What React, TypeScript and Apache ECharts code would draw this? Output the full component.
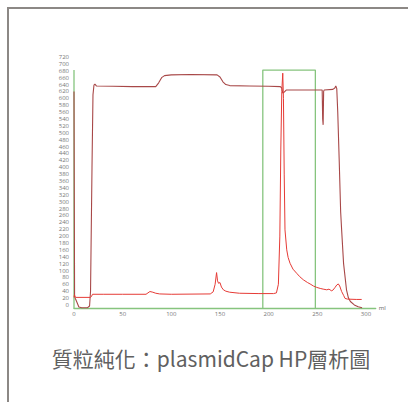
import React, { useEffect, useRef } from "react";
import * as echarts from "echarts";

// Dark red trace (x in ml, y in signal units)
const darkTrace: [number, number][] = [
  [0, 620], [0.6, 25], [1.5, 18], [3, 8], [5, -6], [8, -8], [14, -8], [16, -3], [17, 40],
  [18.5, 400], [19.5, 610], [20.5, 638], [21.5, 641], [23, 636], [40, 635], [60, 634], [84, 634],
  [87, 645], [90, 660], [93, 666], [100, 668], [120, 669], [147, 668], [150, 662], [153, 648],
  [156, 640], [160, 637], [180, 636], [200, 635], [212, 634], [213.5, 630], [214.5, 615], [216, 618],
  [218, 624], [230, 624], [255, 624], [255.5, 540], [256, 523], [256.5, 620], [257, 624], [266, 626],
  [268, 630], [269, 636], [270, 628], [271, 560], [272.5, 420], [274, 270], [275, 218], [277, 120],
  [280, 44], [282, 20], [284, 10], [288, 0], [292, -5], [296, -8],
];

// Bright red trace
const brightTrace: [number, number][] = [
  [0, 22], [0.5, 30], [1, 24], [2, 22], [17, 22], [18, 25], [19, 31], [30, 31], [50, 31], [74, 31],
  [76, 35], [78, 39], [81, 37], [84, 34], [88, 32], [100, 31], [140, 32], [143, 38], [145, 60],
  [146.5, 94], [147.5, 70], [148.5, 63], [150, 65], [151.5, 52], [153.5, 44], [156, 40], [160, 37],
  [170, 34], [190, 33], [205, 33], [208, 35], [210, 60], [211.5, 200], [212.5, 450], [213.5, 620],
  [214.5, 673], [215.2, 600], [216, 380], [216.8, 218], [218.6, 160], [220, 138], [222, 121],
  [225, 104], [228.8, 92], [232, 82], [235.7, 73], [240, 65], [242.6, 61], [246, 55], [249.4, 51],
  [253, 48], [256, 46], [259.7, 44], [261, 45], [262, 46], [263, 44], [264.8, 41], [266, 43],
  [268, 50], [270, 58], [271.6, 61], [273, 55], [275, 39], [277, 28], [278.5, 19], [281, 17],
  [290, 16], [295.6, 16],
];

// Fraction collection window (ml) and its top level
const fractionStart = 194;
const fractionEnd = 248;
const fractionTop = 682;
const yLineTop = 682;

const xMin = 0;
const xMax = 310;
const xInterval = 50;
const yMin = -10;
const yMax = 720;
const yInterval = 10;
const yLabelStep = 20;

const titleText = "質粒純化：plasmidCap HP層析圖";
const xName = "ml";

export default function App() {
  const ref = useRef<HTMLDivElement>(null);
  useEffect(() => {
    if (!ref.current) return;
    const chart = echarts.init(ref.current, null, { renderer: "svg" });
    const green = "#86c47e";
    chart.setOption({
      animation: false,
      grid: { left: 74, top: 57, width: 301.7, height: 251.4 },
      xAxis: {
        type: "value",
        min: xMin,
        max: xMax,
        interval: xInterval,
        name: xName,
        nameLocation: "end",
        nameGap: 3,
        nameTextStyle: { fontSize: 6, color: "#666", fontFamily: "Open Sans" },
        axisLine: { show: true, onZero: false, lineStyle: { color: green, width: 1.3 } },
        axisTick: { show: false },
        splitLine: { show: false },
        axisLabel: {
          fontSize: 6,
          color: "#777",
          margin: 3,
          fontFamily: "Open Sans",
          formatter: (v: number) => (v % xInterval === 0 && v <= 300 ? String(v) : ""),
        },
      },
      yAxis: {
        type: "value",
        min: yMin,
        max: yMax,
        interval: yInterval,
        axisLine: { show: false },
        axisTick: { show: false },
        splitLine: { show: false },
        axisLabel: {
          fontSize: 6,
          lineHeight: 6,
          color: "#777",
          margin: 5,
          fontFamily: "Open Sans",
          formatter: (v: number) => (v >= 0 && v % yLabelStep === 0 ? String(v) : ""),
        },
      },
      series: [
        {
          type: "line",
          data: [[0, yMin], [0, yLineTop]],
          symbol: "none",
          lineStyle: { color: green, width: 1.3 },
          silent: true,
        },
        {
          type: "line",
          data: [
            [fractionStart, yMin],
            [fractionStart, fractionTop],
            [fractionEnd, fractionTop],
            [fractionEnd, yMin],
          ],
          symbol: "none",
          lineStyle: { color: green, width: 1.3 },
          silent: true,
        },
        {
          type: "line",
          data: darkTrace,
          symbol: "none",
          lineStyle: { color: "#a84848", width: 1.1 },
        },
        {
          type: "line",
          data: brightTrace,
          symbol: "none",
          lineStyle: { color: "#e63b36", width: 1.0 },
        },
      ],
      graphic: [
        {
          type: "text",
          x: 211,
          y: 358,
          style: {
            text: titleText,
            fontSize: 21,
            fill: "#606060",
            fontFamily: "Noto Sans CJK TC",
            textAlign: "center",
            textVerticalAlign: "middle",
          },
        },
      ],
    });
    return () => chart.dispose();
  }, []);
  return (
    <>
      <div
        style={{
          position: "absolute",
          left: 7,
          top: 7,
          right: 0,
          bottom: 0,
          borderTop: "2px solid #8c8885",
          borderLeft: "2px solid #8c8885",
        }}
      />
      <div
        ref={ref}
        style={{ position: "absolute", left: 0, top: 0, width: 408, height: 402 }}
      />
    </>
  );
}
